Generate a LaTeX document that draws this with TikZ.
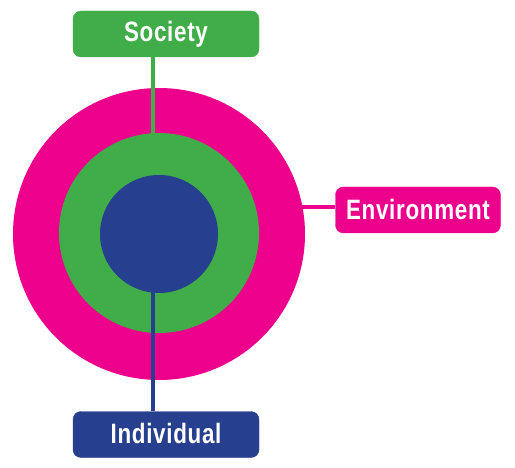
\documentclass[tikz,border=0pt]{standalone}
\usepackage{fontspec}
\setmainfont{Liberation Sans}[FakeStretch=0.80, LetterSpace=2.5]
\definecolor{magentaC}{HTML}{EC008C}
\definecolor{greenC}{HTML}{41AD49}
\definecolor{blueC}{HTML}{26408F}
\newcommand{\lifttext}[1]{\raisebox{2pt}{#1}}
\begin{document}
\begin{tikzpicture}[x=1pt,y=-1pt,
  ring/.style={circle, inner sep=0pt, minimum size=#1},
  label box/.style={rectangle, rounded corners=8pt, fill=#1, draw=#1, text=white,
    font=\fontsize{28}{30}\selectfont\bfseries, inner sep=0pt},
  link/.style={draw=#1, line width=4pt}]
\useasboundingbox (0,0) rectangle (515,468);
\node[ring=292pt, fill=magentaC] (outer) at (159,234) {};
\node[ring=200pt, fill=greenC] (middle) at (159,233) {};
\node[ring=118pt, fill=blueC] (inner) at (159,234) {};
\node[label box=greenC, minimum width=186pt, minimum height=46pt] (society) at (166,34) {\lifttext{Society}};
\node[label box=magentaC, minimum width=165pt, minimum height=46pt] (environment) at (418,210) {\lifttext{Environment}};
\node[label box=blueC, minimum width=186pt, minimum height=46pt] (individual) at (166,434.5) {\lifttext{Individual}};
\coordinate (gtop) at (153,135);
\coordinate (eout) at (300,207);
\coordinate (bin) at (153,285);
\draw[link=greenC] (society.south -| gtop) -- (gtop);
\draw[link=magentaC] (eout) -- (environment.west |- eout);
\draw[link=blueC] (bin) -- (individual.north -| bin);
\end{tikzpicture}
\end{document}
